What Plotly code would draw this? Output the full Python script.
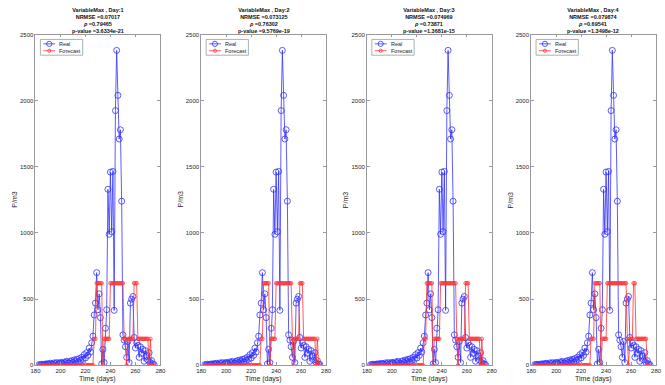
import plotly.graph_objects as go
from plotly.subplots import make_subplots

W, H = 665, 385

# Observation days
days = list(range(183, 276))

# Measured daily maximum (P/m3)
real = [5, 3, 8, 4, 6, 10, 5, 12, 8, 15,
        10, 6, 18, 12, 20, 9, 14, 22, 16, 10,
        25, 18, 30, 20, 14, 28, 35, 22, 40, 30,
        45, 25, 50, 38, 60, 45, 80, 55, 95, 75,
        130, 100, 170, 220, 380, 470, 700, 420, 540, 360,
        10, 120, 20, 280, 420, 1330, 990, 1460, 1010, 1465,
        415, 1925, 2380, 2040, 1710, 1780, 1240, 230, 190, 140,
        60, 180, 20, 470, 500, 520, 210, 130, 170, 150,
        60, 140, 90, 120, 30, 110, 70, 40, 95, 20,
        35, 10, 5]

# Forecast series for horizons of 1 to 4 days
forecast_d1 = [0, 0, 0, 0, 0, 0, 0, 0, 0, 0, 0, 0, 0, 0, 0, 0, 0, 0, 0, 0,
               0, 0, 0, 0, 0, 0, 0, 0, 0, 0, 0, 0, 0, 0, 0, 0, 0, 0, 0, 0,
               0, 0, 0, 0, 200, 200, 620, 620, 620, 620, 620, 0, 200, 200,
               200, 200, 200, 620, 620, 620, 620, 620, 620, 620, 620, 620,
               620, 620, 200, 200, 0, 200, 200, 200, 200, 200, 620, 620, 620,
               200, 200, 200, 200, 200, 200, 200, 200, 200, 0, 200, 0, 0, 0]
forecast_d2 = [0, 0, 0, 0, 0, 0, 0, 0, 0, 0, 0, 0, 0, 0, 0, 0, 0, 0, 0, 0,
               0, 0, 0, 0, 0, 0, 0, 0, 0, 0, 0, 0, 0, 0, 0, 0, 0, 0, 0, 0,
               0, 0, 0, 0, 0, 200, 200, 620, 620, 620, 620, 620, 0, 200,
               200, 200, 200, 620, 620, 620, 620, 620, 620, 620, 620, 620,
               620, 620, 620, 620, 200, 0, 200, 200, 200, 200, 620, 620, 620,
               200, 200, 200, 200, 200, 200, 200, 200, 200, 200, 0, 200, 0, 0]
forecast_d3 = [0, 0, 0, 0, 0, 0, 0, 0, 0, 0, 0, 0, 0, 0, 0, 0, 0, 0, 0, 0,
               0, 0, 0, 0, 0, 0, 0, 0, 0, 0, 0, 0, 0, 0, 0, 0, 0, 0, 0, 0,
               0, 0, 0, 200, 200, 620, 620, 620, 620, 620, 0, 200, 200, 200,
               200, 200, 620, 620, 620, 620, 620, 620, 620, 620, 620, 620,
               620, 620, 620, 200, 0, 200, 200, 200, 200, 200, 620, 620, 620,
               200, 200, 200, 200, 200, 200, 200, 200, 200, 0, 200, 0, 0, 0]
forecast_d4 = [0, 0, 0, 0, 0, 0, 0, 0, 0, 0, 0, 0, 0, 0, 0, 0, 0, 0, 0, 0,
               0, 0, 0, 0, 0, 0, 0, 0, 0, 0, 0, 0, 0, 0, 0, 0, 0, 0, 0, 0,
               0, 0, 0, 0, 0, 200, 200, 200, 620, 620, 620, 620, 620, 0,
               200, 200, 200, 200, 620, 620, 620, 620, 620, 620, 620, 620,
               620, 620, 620, 620, 620, 620, 620, 620, 200, 0, 200, 200, 200,
               620, 620, 200, 200, 200, 200, 200, 200, 200, 200, 200, 0, 0, 0]
forecasts = [forecast_d1, forecast_d2, forecast_d3, forecast_d4]

# Per-panel statistics shown in the titles
horizons = ["Day:1", "Day:2", "Day:3", "Day:4"]
nrmse = ["0.07017", "0.073125", "0.074969", "0.079874"]
rho = ["0.79465", "0.76302", "0.73871", "0.69541"]
pvalue = ["3.6334e-21", "9.5769e-19", "1.3681e-15", "1.3498e-12"]

x_ticks = [180, 200, 220, 240, 260, 280]
y_ticks = [0, 500, 1000, 1500, 2000, 2500]

# Panel placement in pixels
panel_left = [31, 199.5, 368, 535]
panel_w = 127
plot_top, plot_bot = 32, 368

FONT = "Liberation Sans, Arial, sans-serif"
AXIS_GRAY = "#9a9a9a"
TEXT = "#262626"
BLUE = "rgb(50,50,255)"
RED = "rgb(255,50,50)"


def fx(px):
    return px / W


def fy(py):
    return 1 - py / H


fig = make_subplots(rows=1, cols=4)

shapes = []
annotations = []
for i in range(4):
    col = i + 1
    fig.add_trace(go.Scatter(
        x=days, y=real, mode="lines+markers", name="Real",
        line=dict(color=BLUE, width=0.8),
        marker=dict(symbol="circle-open", size=6, color=BLUE,
                    line=dict(width=0.8)),
        showlegend=False), row=1, col=col)
    fig.add_trace(go.Scatter(
        x=days, y=forecasts[i], mode="lines+markers", name="Forecast",
        line=dict(color=RED, width=0.8),
        marker=dict(symbol="circle-open", size=3.5, color=RED,
                    line=dict(width=0.8)),
        showlegend=False), row=1, col=col)

    x0 = panel_left[i]
    sfx = "" if i == 0 else str(col)
    fig.layout["xaxis" + sfx].update(
        domain=[fx(x0), fx(x0 + panel_w)], range=[180, 280],
        tickvals=x_ticks, ticks="inside", ticklen=3, tickcolor=AXIS_GRAY,
        showline=True, linecolor=AXIS_GRAY, linewidth=0.8, mirror="ticks",
        showgrid=False, zeroline=False,
        tickfont=dict(family=FONT, size=6, color=TEXT))
    fig.layout["yaxis" + sfx].update(
        domain=[fy(plot_bot), fy(plot_top)], range=[0, 2500],
        tickvals=y_ticks, ticks="inside", ticklen=3, tickcolor=AXIS_GRAY,
        showline=True, linecolor=AXIS_GRAY, linewidth=0.8, mirror="ticks",
        showgrid=False, zeroline=False,
        tickfont=dict(family=FONT, size=6, color=TEXT))

    cx = x0 + panel_w / 2
    # Title block
    annotations.append(dict(
        x=fx(cx), y=fy(2.5), xref="paper", yref="paper",
        xanchor="center", yanchor="top", showarrow=False, align="center",
        text=(f"<b>VariableMax , {horizons[i]}</b><br>"
              f"<b>NRMSE ={nrmse[i]}</b><br>"
              f"<b><i>\u03c1</i> ={rho[i]}</b><br>"
              f"<b>p-value ={pvalue[i]}</b>"),
        font=dict(family=FONT, size=5.5, color="#111111")))
    # Axis titles
    annotations.append(dict(
        x=fx(cx), y=fy(381.5), xref="paper", yref="paper",
        xanchor="center", yanchor="middle", showarrow=False,
        text="Time (days)", font=dict(family=FONT, size=7, color=TEXT)))
    annotations.append(dict(
        x=fx(x0 - 21), y=fy(200), xref="paper", yref="paper",
        xanchor="center", yanchor="middle", showarrow=False, textangle=-90,
        text="P/m3", font=dict(family=FONT, size=7, color=TEXT)))

    # Legend box
    lx0, ly0, lx1, ly1 = x0 + 5, 37, x0 + 48, 53
    shapes.append(dict(type="rect", xref="paper", yref="paper",
                       x0=fx(lx0), x1=fx(lx1), y0=fy(ly1), y1=fy(ly0),
                       line=dict(color=AXIS_GRAY, width=0.8),
                       fillcolor="white", layer="above"))
    for row_y, name, color, msize in [(41.5, "Real", BLUE, 2.6),
                                      (48.5, "Forecast", RED, 1.6)]:
        shapes.append(dict(type="line", xref="paper", yref="paper",
                           x0=fx(lx0 + 3), x1=fx(lx0 + 15),
                           y0=fy(row_y), y1=fy(row_y),
                           line=dict(color=color, width=0.8), layer="above"))
        shapes.append(dict(type="circle", xref="paper", yref="paper",
                           xsizemode="pixel", ysizemode="pixel",
                           xanchor=fx(lx0 + 9), yanchor=fy(row_y),
                           x0=-msize, x1=msize, y0=-msize, y1=msize,
                           line=dict(color=color, width=0.8), layer="above"))
        annotations.append(dict(
            x=fx(lx0 + 17), y=fy(row_y), xref="paper", yref="paper",
            xanchor="left", yanchor="middle", showarrow=False,
            text=name, font=dict(family=FONT, size=5.5, color=TEXT)))

fig.update_layout(
    width=W, height=H, margin=dict(l=0, r=0, t=0, b=0),
    paper_bgcolor="white", plot_bgcolor="white",
    showlegend=False, shapes=shapes, annotations=annotations)

fig.write_html("out.html")
